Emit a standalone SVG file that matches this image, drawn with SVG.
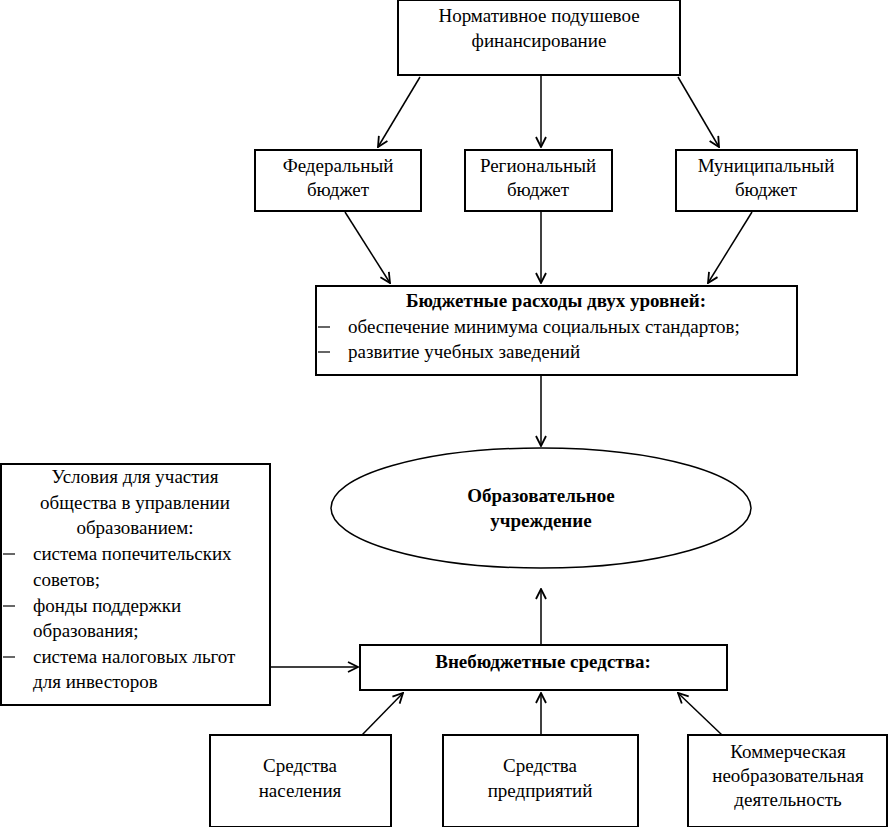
<svg xmlns="http://www.w3.org/2000/svg" width="888" height="827" viewBox="0 0 888 827">
<style>
  .box { fill: #fff; stroke: #000; stroke-width: 2; }
  .t { font-size: 19px; fill: #000; }
  .c { text-anchor: middle; }
  .b { font-weight: bold; }
  .conn line { stroke: #000; stroke-width: 1.5; marker-end: url(#arr); }
  .dash { stroke: #000; stroke-width: 1.2; }
</style>
<defs>
  <marker id="arr" viewBox="0 0 12 12" refX="11" refY="6" markerWidth="12" markerHeight="12" markerUnits="userSpaceOnUse" orient="auto">
    <polyline points="1,1 11,6 1,11" fill="none" stroke="#000" stroke-width="1.8"/>
  </marker>
</defs>
<rect width="888" height="827" fill="#fff"/>

<g id="conn" class="conn">
  <line x1="420" y1="77" x2="378" y2="147"/>
  <line x1="541" y1="76" x2="541" y2="147"/>
  <line x1="678" y1="77" x2="719" y2="147"/>
  <line x1="345" y1="212" x2="390" y2="283"/>
  <line x1="541" y1="212" x2="541" y2="283"/>
  <line x1="752" y1="212" x2="708" y2="283"/>
  <line x1="541" y1="376" x2="541" y2="446"/>
  <line x1="541" y1="644" x2="541" y2="589"/>
  <line x1="271" y1="667" x2="358" y2="667"/>
  <line x1="362" y1="735" x2="403" y2="693"/>
  <line x1="541" y1="735" x2="541" y2="693"/>
  <line x1="722" y1="735" x2="678" y2="693"/>
</g>

<g font-family="Liberation Serif, serif">
<g id="top">
  <rect class="box" x="398" y="0" width="282" height="75"/>
  <text class="t c" x="539" y="22">Нормативное подушевое</text>
  <text class="t c" x="539" y="47">финансирование</text>
</g>

<g id="federal">
  <rect class="box" x="255" y="150" width="166" height="61"/>
  <text class="t c" x="338" y="172">Федеральный</text>
  <text class="t c" x="338" y="196">бюджет</text>
</g>

<g id="regional">
  <rect class="box" x="465" y="150" width="147" height="61"/>
  <text class="t c" x="538" y="172">Региональный</text>
  <text class="t c" x="538" y="196">бюджет</text>
</g>

<g id="municipal">
  <rect class="box" x="676" y="150" width="181" height="61"/>
  <text class="t c" x="766" y="172">Муниципальный</text>
  <text class="t c" x="766" y="196">бюджет</text>
</g>

<g id="budget">
  <rect class="box" x="316" y="286" width="481" height="89"/>
  <text class="t c b" x="556" y="307">Бюджетные расходы двух уровней:</text>
  <line class="dash" x1="318" y1="327" x2="330" y2="327"/>
  <text class="t" x="348" y="333">обеспечение минимума социальных стандартов;</text>
  <line class="dash" x1="318" y1="352" x2="330" y2="352"/>
  <text class="t" x="348" y="358">развитие учебных заведений</text>
</g>

<g id="institution">
  <ellipse cx="541" cy="508" rx="210" ry="60" fill="#fff" stroke="#000" stroke-width="1.5"/>
  <text class="t c b" x="541" y="502">Образовательное</text>
  <text class="t c b" x="541" y="527">учреждение</text>
</g>

<g id="conditions">
  <rect class="box" x="1" y="464" width="269" height="241"/>
  <text class="t c" x="135" y="483">Условия для участия</text>
  <text class="t c" x="135" y="509">общества в управлении</text>
  <text class="t c" x="135" y="534">образованием:</text>
  <line class="dash" x1="3" y1="554" x2="15" y2="554"/>
  <text class="t" x="33" y="560">система попечительских</text>
  <text class="t" x="33" y="586">советов;</text>
  <line class="dash" x1="3" y1="606" x2="15" y2="606" stroke-width="2"/>
  <text class="t" x="33" y="612">фонды поддержки</text>
  <text class="t" x="33" y="637">образования;</text>
  <line class="dash" x1="3" y1="657" x2="15" y2="657" stroke-width="2"/>
  <text class="t" x="33" y="663">система налоговых льгот</text>
  <text class="t" x="33" y="688">для инвесторов</text>
</g>

<g id="extrabudget">
  <rect class="box" x="360" y="645" width="367" height="45"/>
  <text class="t c b" x="543" y="668">Внебюджетные средства:</text>
</g>

<g id="population">
  <rect class="box" x="210" y="735" width="181" height="92"/>
  <text class="t c" x="300" y="772">Средства</text>
  <text class="t c" x="300" y="797">населения</text>
</g>

<g id="enterprises">
  <rect class="box" x="443" y="735" width="195" height="92"/>
  <text class="t c" x="540" y="772">Средства</text>
  <text class="t c" x="540" y="797">предприятий</text>
</g>

<g id="commercial">
  <rect class="box" x="688" y="735" width="199" height="92"/>
  <text class="t c" x="788" y="758">Коммерческая</text>
  <text class="t c" x="788" y="782">необразовательная</text>
  <text class="t c" x="788" y="806">деятельность</text>
</g>
</g>
</svg>
